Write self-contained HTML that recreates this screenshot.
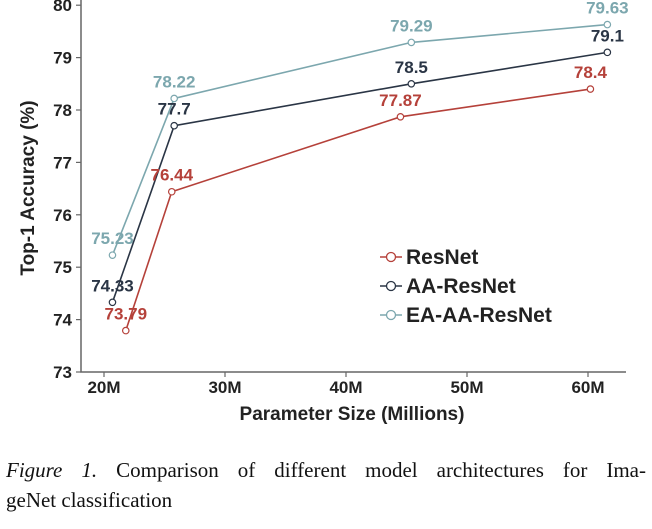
<!DOCTYPE html>
<html><head><meta charset="utf-8"><style>
html,body{margin:0;padding:0;background:#fff;width:652px;height:529px;overflow:hidden}
svg{display:block}
.cap{position:absolute;left:6px;top:455px;width:640px;font-family:"Liberation Serif",serif;font-size:21px;line-height:30px;color:#111}
.l1{text-align:justify;text-align-last:justify;white-space:nowrap;display:block}
</style></head><body>
<svg id="chart" width="652" height="440" xmlns="http://www.w3.org/2000/svg" font-family="Liberation Sans, sans-serif"></svg>
<div class="cap"><span class="l1"><i>Figure 1.</i> Comparison of different model architectures for Ima-</span>geNet classification</div>
<script>
const xTicks = [20, 30, 40, 50, 60];
const xTickLabels = ["20M", "30M", "40M", "50M", "60M"];
const yTicks = [73, 74, 75, 76, 77, 78, 79, 80];
const seriesNames = ["ResNet", "AA-ResNet", "EA-AA-ResNet"];
const resnetX = [21.8, 25.6, 44.5, 60.2];
const resnetY = [73.79, 76.44, 77.87, 78.4];
const aaX = [20.7, 25.8, 45.4, 61.6];
const aaY = [74.33, 77.7, 78.5, 79.1];
const eaX = [20.7, 25.8, 45.4, 61.6];
const eaY = [75.23, 78.22, 79.29, 79.63];

const NS = "http://www.w3.org/2000/svg";
const svg = document.getElementById("chart");
const X0 = 104, XS = 12.1, Y0 = 372, YS = 52.4;
const xs = v => X0 + (v - 20) * XS;
const ys = v => Y0 - (v - 73) * YS;
function mk(tag, attrs, parent) {
  const e = document.createElementNS(NS, tag);
  for (const k in attrs) e.setAttribute(k, attrs[k]);
  (parent || svg).appendChild(e);
  return e;
}
let ax = mk("path", {d: "M81 0 V372 H626", stroke: "#666", "stroke-width": 1.5, fill: "none"});


yTicks.forEach(t => {
  const y = ys(t);
  const tl = mk("line", {x1: 76, x2: 81, y1: y, y2: y, stroke: "#666", "stroke-width": 1.2});
  
  
  const tx = mk("text", {x: 72, y: y + 6, "text-anchor": "end", "font-size": 17, "font-weight": "bold", fill: "#222"});
  tx.textContent = t;
  
  
});
xTicks.forEach((t, i) => {
  const x = xs(t);
  const tl = mk("line", {x1: x, x2: x, y1: 372, y2: 377, stroke: "#666", "stroke-width": 1.2});
  
  
  const tx = mk("text", {x: x, y: 393, "text-anchor": "middle", "font-size": 17, "font-weight": "bold", fill: "#222"});
  tx.textContent = xTickLabels[i];
  
  
});
let xt = mk("text", {x: 352, y: 420, "text-anchor": "middle", "font-size": 19, "font-weight": "bold", fill: "#222"});
xt.textContent = "Parameter Size (Millions)";


let yt = mk("text", {x: 0, y: 0, transform: "translate(34,188) rotate(-90)", "text-anchor": "middle", "font-size": 19, "font-weight": "bold", fill: "#222"});
yt.textContent = "Top-1 Accuracy (%)";



const series = [
  {xv: resnetX, yv: resnetY, c: "#b5413a", key: "resnet"},
  {xv: aaX, yv: aaY, c: "#2a3545", key: "aa-resnet"},
  {xv: eaX, yv: eaY, c: "#7ca7ae", key: "ea-aa-resnet"}
];
series.forEach(s => {
  const pts = s.xv.map((v, i) => xs(v) + "," + ys(s.yv[i])).join(" ");
  const pl = mk("polyline", {points: pts, fill: "none", stroke: s.c, "stroke-width": 1.6});
  
  
});
series.forEach(s => {
  s.xv.forEach((v, i) => {
    const c = mk("circle", {cx: xs(v), cy: ys(s.yv[i]), r: 3.2, fill: "#fff", stroke: s.c, "stroke-width": 1.2});
    
    
    const t = mk("text", {x: xs(v), y: ys(s.yv[i]) - 11, "text-anchor": "middle", "font-size": 17, "font-weight": "bold", fill: s.c});
    t.textContent = s.yv[i];
    
    
  });
});
series.forEach((s, i) => {
  const y = 257 + i * 29;
  const g = mk("g", {});
  
  
  mk("line", {x1: 380, x2: 402, y1: y, y2: y, stroke: s.c, "stroke-width": 1.4}, g);
  mk("circle", {cx: 391, cy: y, r: 4.5, fill: "#fff", stroke: s.c, "stroke-width": 1.3}, g);
  const t = mk("text", {x: 406, y: y + 7, "font-size": 21, "font-weight": "bold", fill: "#222"}, g);
  t.textContent = seriesNames[i];
});
</script>
</body></html>
